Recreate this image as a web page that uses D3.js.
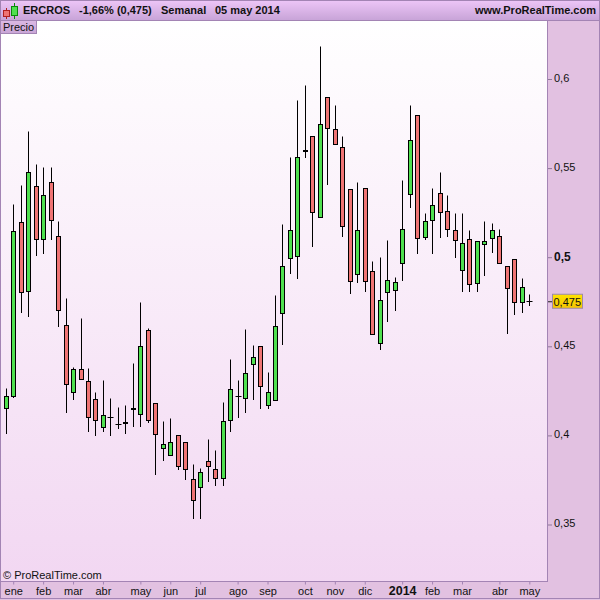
<!DOCTYPE html>
<html><head><meta charset="utf-8">
<script src="https://cdnjs.cloudflare.com/ajax/libs/d3/7.8.5/d3.min.js"></script>
<style>html,body{margin:0;padding:0;background:#fff}svg{display:block}text{font-family:"Liberation Sans",Arial,sans-serif;fill:#111}</style>
</head><body><svg id="c" width="600" height="600"></svg>
<script>
const symbol = "ERCROS", change = "-1,66% (0,475)", period = "Semanal", dateLabel = "05 may 2014", site = "www.ProRealTime.com";
const firstWeek = "2012-12-31";
const high = [.4261,.5293,.5400,.5703,.5523,.5501,.5501,.5203,.4771,.4383,.4654,.4373,.4242,.4306,.4205,.4154,.4166,.4401,.4743,.4601,.4178,.4080,.4093,.3998,.3959,.3835,.3812,.3975,.3913,.4182,.4424,.4306,.4592,.4502,.4498,.4351,.4783,.5181,.5562,.5882,.5961,.5676,.6180,.5895,.5849,.5679,.5378,.5420,.5384,.4977,.5000,.5091,.4888,.5433,.5849,.5794,.5247,.5383,.5477,.5348,.5247,.5248,.5151,.5087,.5202,.5190,.5157,.4946,.4986,.4882,.4792];
const low = [.4008,.4210,.4689,.4666,.5009,.5020,.5098,.4610,.4128,.4201,.4313,.4021,.3999,.4021,.3999,.4038,.4010,.4049,.4049,.4070,.3778,.3859,.3886,.3808,.3750,.3532,.3532,.3739,.3717,.3717,.4021,.4098,.4126,.4199,.4149,.4149,.4195,.4508,.4910,.4882,.5558,.5059,.5221,.5407,.5631,.5115,.4796,.4857,.4807,.4565,.4481,.4638,.4700,.4868,.5278,.5020,.5098,.5020,.5110,.5115,.4999,.4807,.4807,.4807,.4899,.5028,.4963,.4573,.4680,.4691,.4730];
const open = [.4153,.4220,.5197,.4810,.5395,.5101,.5418,.5115,.4615,.4243,.4369,.4301,.4200,.4042,.4102,.4063,.4066,.4150,.4116,.4587,.4178,.3925,.3886,.3998,.3959,.3752,.3707,.3852,.3808,.3757,.4083,.4216,.4206,.4397,.4498,.4167,.4195,.4683,.4991,.5003,.5597,.5676,.5221,.5895,.5715,.5614,.5378,.4902,.5384,.4918,.4514,.4801,.4812,.4963,.5350,.5794,.5112,.5204,.5356,.5255,.5148,.4924,.5098,.4851,.5070,.5104,.5115,.4946,.4986,.4744,.4752];
const close = [.4217,.5146,.4801,.5474,.5101,.5345,.5208,.4703,.4284,.4369,.4313,.4103,.4083,.4111,.4102,.4063,.4071,.4144,.4498,.4083,.4004,.3948,.3959,.3824,.3808,.3634,.3791,.3824,.3757,.4077,.4256,.4216,.4346,.4436,.4273,.4240,.4610,.4946,.5148,.5558,.5592,.5249,.5743,.5721,.5631,.5171,.4862,.5148,.4862,.4565,.4756,.4868,.4857,.5154,.5653,.5104,.5199,.5289,.5249,.5154,.5092,.5075,.4845,.5087,.5087,.5148,.4963,.4823,.4744,.4829,.4752];
const yTicks = [.35,.4,.45,.5,.55,.6];
const yBold = .5, lastPrice = .475, lastLabel = "0,475";
const xTickWeeks = [1,5,9,13,18,22,26,31,35,40,44,48,53,57,61,66,70];
const xTickLabels = ["ene","feb","mar","abr","may","jun","jul","ago","sep","oct","nov","dic","2014","feb","mar","abr","may"];

const W = 600, H = 600, plotR = 547, plotT = 20.5, plotB = 581.5;
const svg = d3.select("#c");
const defs = svg.append("defs");
function grad(id, stops){
  const g = defs.append("linearGradient").attr("id", id).attr("x1",0).attr("y1",0).attr("x2",0).attr("y2",1);
  stops.forEach(([o,c]) => g.append("stop").attr("offset",o).attr("stop-color",c));
}
grad("plotG", [[0,"#ffffff"],[1,"#f2d7f2"]]);
grad("headG", [[0,"#eec6f8"],[1,"#c8a4d8"]]);
grad("tabG", [[0,"#dcb9e4"],[1,"#c9a5d6"]]);
grad("yelG", [[0,"#ffe400"],[1,"#f5c400"]]);
const border = "#a384b4";

svg.append("rect").attr("width",W).attr("height",H).attr("fill","#e2c1e1");
svg.append("rect").attr("x",1).attr("y",plotT).attr("width",plotR-1).attr("height",plotB-plotT).attr("fill","url(#plotG)");
svg.append("rect").attr("width",W).attr("height",20).attr("fill","url(#headG)");

const weeks = d3.range(high.length).map(i => d3.utcDay.offset(new Date(firstWeek+"T00:00:00Z"), 7*i));
const x = d3.scaleUtc().domain([weeks[0], weeks[weeks.length-1]]).range([5.72, 529.32]);
const y = d3.scaleLinear().domain([.35,.6]).range([524.5,79]);
const px = d => Math.round(x(d)) + .5;
const py = v => Math.round(y(v) - .5) + .5;

const candles = svg.append("g").selectAll("g").data(weeks).join("g");
candles.append("line")
  .attr("x1",d=>px(d)).attr("x2",d=>px(d))
  .attr("y1",(d,i)=>py(high[i])).attr("y2",(d,i)=>py(low[i])+.5)
  .attr("stroke","#000").attr("stroke-width",1);
candles.each(function(d,i){
  const s = d3.select(this), t = py(Math.max(open[i],close[i])), b = py(Math.min(open[i],close[i]));
  if (open[i] === close[i]) {
    s.append("line").attr("x1",px(d)-3).attr("x2",px(d)+3).attr("y1",t).attr("y2",t)
      .attr("stroke","#000").attr("stroke-width",1);
  } else {
    s.append("rect").attr("x",px(d)-2).attr("y",t).attr("width",4).attr("height",Math.max(b-t,1))
      .attr("fill", close[i] > open[i] ? "#4fe04f" : "#ef7474")
      .attr("stroke","#000").attr("stroke-width",1);
  }
});

// frames
const fr = svg.append("g").attr("stroke",border).attr("fill","none");
fr.append("rect").attr("x",.5).attr("y",.5).attr("width",W-1).attr("height",H-2);
fr.append("line").attr("x1",0).attr("x2",W).attr("y1",plotT).attr("y2",plotT);
fr.append("line").attr("x1",plotR+.5).attr("x2",plotR+.5).attr("y1",plotT).attr("y2",plotB);
fr.append("line").attr("x1",0).attr("x2",plotR+1).attr("y1",plotB).attr("y2",plotB);

// Y axis
const fmt = v => String(+v.toFixed(3)).replace(".",",");
const yAxis = svg.append("g").attr("transform",`translate(${plotR+1},0)`)
  .call(d3.axisRight(y).tickValues(yTicks).tickFormat(fmt).tickSize(4).tickSizeOuter(0).tickPadding(2));
yAxis.select(".domain").remove();
yAxis.selectAll("line").attr("stroke","#8f7a99");
yAxis.selectAll("text").attr("fill","#222").attr("font-size",11).attr("font-family",'"Liberation Sans"').attr("dy","0.22em");
yAxis.selectAll(".tick").filter(d=>d===yBold).select("text").attr("font-weight","bold").attr("font-size",12).attr("fill","#111").attr("dy","0.3em");

// last price flag
svg.append("line").attr("x1",plotR+1).attr("x2",552).attr("y1",y(lastPrice)).attr("y2",y(lastPrice)).attr("stroke","#222");
svg.append("rect").attr("x",552.5).attr("y",y(lastPrice)-7.5).attr("width",30).attr("height",14).attr("fill","url(#yelG)").attr("stroke","#9d8aa8");
svg.append("text").attr("x",553.5).attr("y",y(lastPrice)+3.8).attr("font-size",11).text(lastLabel);

// X axis
const xAxis = svg.append("g").attr("transform",`translate(0,${plotB})`)
  .call(d3.axisBottom(x).tickValues(xTickWeeks.map(i=>weeks[i]))
    .tickFormat((d,i)=>xTickLabels[i]).tickSize(3).tickSizeOuter(0).tickPadding(2));
xAxis.select(".domain").remove();
xAxis.selectAll("line").attr("stroke",border).attr("x1",0).attr("x2",0);
xAxis.selectAll("text").attr("fill","#222").attr("font-size",11).attr("font-family",'"Liberation Sans"').attr("y",6);
xAxis.selectAll(".tick").filter((d,i)=>xTickLabels[i]==="2014").select("text")
  .attr("font-weight","bold").attr("font-size",12.5).attr("fill","#111").attr("y",5);

// header
const ht = (tx,xp,anchor) => svg.append("text").attr("x",xp).attr("y",14).attr("font-size",11).attr("font-weight","bold").attr("text-anchor",anchor||"start").attr("fill","#111").text(tx);
ht(symbol,23); ht(change,79); ht(period,161); ht(dateLabel,215); ht(site,596,"end");

// icon
const ic = svg.append("g").attr("stroke-width",1);
ic.append("line").attr("x1",6.5).attr("x2",6.5).attr("y1",8).attr("y2",19).attr("stroke","#b02020");
ic.append("rect").attr("x",3.5).attr("y",10.5).attr("width",6).attr("height",6).attr("fill","#ef7474").attr("stroke","#b02020");
ic.append("line").attr("x1",14.5).attr("x2",14.5).attr("y1",3).attr("y2",19).attr("stroke","#0a8a0a");
ic.append("rect").attr("x",11.5).attr("y",6.5).attr("width",6).attr("height",9).attr("fill","#4fe04f").attr("stroke","#0a8a0a");

// tab
svg.append("rect").attr("x",.5).attr("y",plotT).attr("width",36).attr("height",13).attr("fill","url(#tabG)").attr("stroke",border);
svg.append("text").attr("x",3).attr("y",31).attr("font-size",11).attr("fill","#222").text("Precio");

// copyright
svg.append("text").attr("x",3).attr("y",579).attr("font-size",11).attr("fill","#222").text("© ProRealTime.com");
</script></body></html>
